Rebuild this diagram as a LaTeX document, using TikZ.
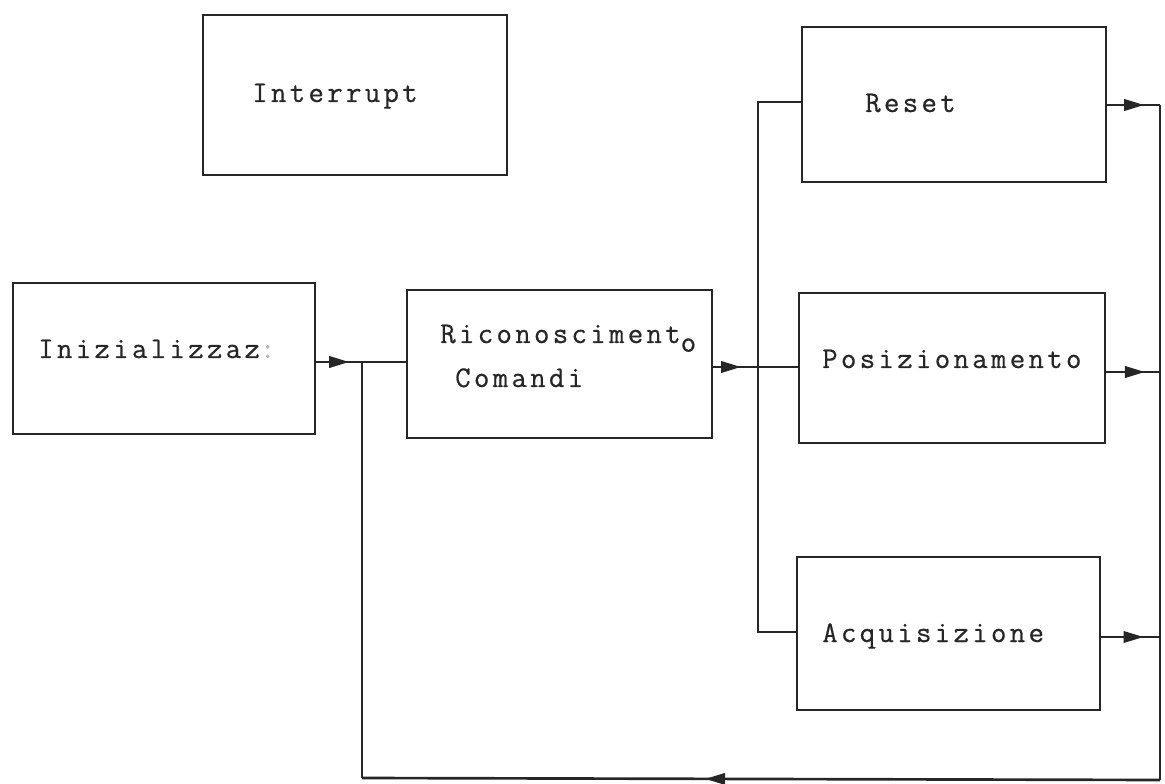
\documentclass[tikz,border=0pt]{standalone}
\usepackage{fontspec}
\newfontfamily\twfont[LetterSpace=11,FakeBold=0.6]{Latin Modern Mono}
\usetikzlibrary{arrows.meta,decorations.markings}
\definecolor{ink}{HTML}{262626}
\tikzset{
  box/.style={draw=ink, line width=2pt, rectangle, inner sep=0pt},
  lbl/.style={anchor=base west, inner sep=0pt, text=ink, font=\twfont\fontsize{22.5}{26}\selectfont},
  wire/.style={draw=ink, line width=2pt},
  midarrow/.style={postaction={decorate}, decoration={markings,
      mark=at position #1 with {\arrow{Triangle[length=15pt,width=8.5pt]}}}}
}
\begin{document}
\begin{tikzpicture}[x=0.75pt,y=-0.75pt]
\useasboundingbox (0,0) rectangle (1165,784);
% boxes
\node[box, minimum width=228pt, minimum height=120pt] (intr) at (355,95) {};
\node[box, minimum width=228pt, minimum height=116.25pt] (reset) at (954,104.5) {};
\node[box, minimum width=226.5pt, minimum height=113.25pt] (init) at (164,358.5) {};
\node[box, minimum width=228.75pt, minimum height=111pt] (ricon) at (559.5,364) {};
\node[box, minimum width=229.5pt, minimum height=112.5pt] (posiz) at (952,368) {};
\node[box, minimum width=227.25pt, minimum height=114.75pt] (acq) at (948.5,633.5) {};
% labels
\node[lbl] (tintr) at (252,102) {Interrupt};
\node[lbl] (treset) at (865,112) {Reset};
\node[lbl] (tinit) at (38,358) {Inizializzaz\textcolor{gray!60}{:}};
\node[lbl] (tricon) at (440,343) {Riconosciment\raisebox{-6.5pt}{o}};
\node[lbl] (tcom) at (455,387) {Comandi};
\node[lbl] (tposiz) at (822,368) {Posizionamento};
\node[lbl] (tacq) at (822,642) {Acquisizione};
% junctions
\coordinate (j1) at (362,362);
\coordinate (j1b) at (362,778);
\coordinate (j2) at (758,367);
\coordinate (lt) at (758,102);
\coordinate (lb) at (758,632);
\coordinate (r1) at (1160,105);
\coordinate (r2) at (1160,372);
\coordinate (r3) at (1160,637);
\coordinate (rb) at (1160,780);
% connectors
\draw[wire, midarrow=0.72] (init.east |- j1) -- (j1);
\draw[wire] (j1) -- (ricon.west |- j1);
\draw[wire, midarrow=0.62] (ricon.east |- j2) -- (j2);
\draw[wire] (j2) -- (posiz.west |- j2);
\draw[wire] (reset.west |- lt) -- (lt) -- (lb) -- (acq.west |- lb);
\draw[wire, midarrow=0.7] (reset.east |- r1) -- (r1);
\draw[wire, midarrow=0.72] (posiz.east |- r2) -- (r2);
\draw[wire, midarrow=0.72] (acq.east |- r3) -- (r3);
\draw[wire] (r1) -- (rb);
\draw[wire, midarrow=0.57] (rb) -- (j1b);
\draw[wire] (j1b) -- (j1);
\end{tikzpicture}
\end{document}
